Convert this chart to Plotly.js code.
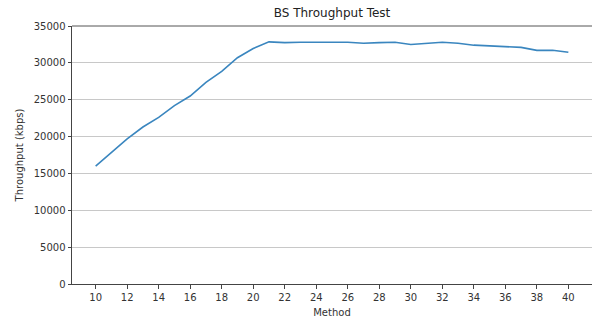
<!DOCTYPE html>
<html>
<head>
<meta charset="utf-8">
<script src="https://cdn.plot.ly/plotly-3.0.1.min.js"></script>
<style>html,body{margin:0;padding:0;background:#fff;}#chart{width:593px;height:322px;}</style>
</head>
<body>
<div id="chart"></div>
<script>
const methods = [10,11,12,13,14,15,16,17,18,19,20,21,22,23,24,25,26,27,28,29,30,31,32,33,34,35,36,37,38,39,40];
const throughput = [16000,17900,19700,21300,22600,24200,25500,27350,28850,30700,31950,32850,32750,32800,32750,32800,32800,32650,32750,32800,32500,32650,32800,32650,32400,32300,32150,32100,31700,31700,31450];
const xTicks = [10,12,14,16,18,20,22,24,26,28,30,32,34,36,38,40];
const yTicks = [0,5000,10000,15000,20000,25000,30000,35000];

const font = {family: 'DejaVu Sans, sans-serif', size: 10, color: '#333'};
Plotly.newPlot('chart', [{
  x: methods, y: throughput, type: 'scatter', mode: 'lines',
  line: {color: '#3a86bf', width: 1.6}, hoverinfo: 'skip'
}], {
  width: 593, height: 322,
  margin: {l: 72, r: 1, t: 26, b: 38},
  paper_bgcolor: '#fff', plot_bgcolor: '#fff',
  showlegend: false,
  font: font,
  title: {text: 'BS Throughput Test', font: {family: 'DejaVu Sans, sans-serif', size: 12, color: '#222'}, x: 0.5, xref: 'paper', y: 0.96, yref: 'container', yanchor: 'middle'},
  xaxis: {
    range: [8.5, 41.5], tickvals: xTicks, ticktext: xTicks.map(String),
    showgrid: false, zeroline: false,
    showline: true, linecolor: '#444', linewidth: 1, mirror: false,
    ticks: 'outside', ticklen: 3.5, tickcolor: '#444', tickfont: font,
    title: {text: 'Method', font: {family: 'DejaVu Sans, sans-serif', size: 10, color: '#333'}, standoff: 7}
  },
  yaxis: {
    range: [0, 35000], tickvals: yTicks, ticktext: yTicks.map(String),
    showgrid: true, gridcolor: '#c8c8c8', gridwidth: 1, zeroline: false,
    showline: true, linecolor: '#444', linewidth: 1,
    ticks: 'outside', ticklen: 3.5, tickcolor: '#444', tickfont: font,
    title: {text: 'Throughput (kbps)', font: {family: 'DejaVu Sans, sans-serif', size: 10, color: '#333'}, standoff: 8}
  },
  shapes: [{type: 'line', xref: 'paper', yref: 'paper', x0: 0, x1: 1, y0: 1, y1: 1, line: {color: '#555', width: 1}}]
}, {displayModeBar: false, staticPlot: true});
</script>
</body>
</html>
